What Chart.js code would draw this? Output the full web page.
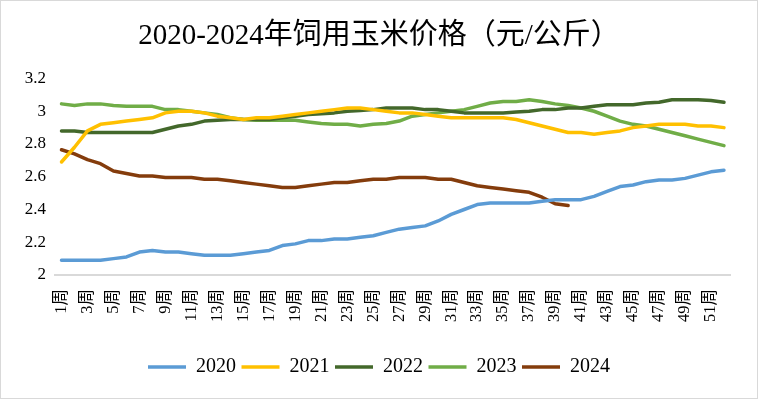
<!DOCTYPE html>
<html>
<head>
<meta charset="utf-8">
<script src="https://cdn.jsdelivr.net/npm/chart.js@4/dist/chart.umd.min.js"></script>
<style>
	body { margin: 0; background: #fff; }
	#wrap { width: 758px; height: 399px; position: relative; }
</style>
</head>
<body>
<div id="wrap"><canvas id="myChart" width="758" height="399"></canvas></div>
<script>
const weeks = [
	'1周','2周','3周','4周','5周','6周','7周','8周','9周','10周',
	'11周','12周','13周','14周','15周','16周','17周','18周','19周','20周',
	'21周','22周','23周','24周','25周','26周','27周','28周','29周','30周',
	'31周','32周','33周','34周','35周','36周','37周','38周','39周','40周',
	'41周','42周','43周','44周','45周','46周','47周','48周','49周','50周',
	'51周','52周'
];

const price2020 = [
	2.09, 2.09, 2.09, 2.09, 2.10, 2.11, 2.14, 2.15, 2.14, 2.14,
	2.13, 2.12, 2.12, 2.12, 2.13, 2.14, 2.15, 2.18, 2.19, 2.21,
	2.21, 2.22, 2.22, 2.23, 2.24, 2.26, 2.28, 2.29, 2.30, 2.33,
	2.37, 2.40, 2.43, 2.44, 2.44, 2.44, 2.44, 2.45, 2.46, 2.46,
	2.46, 2.48, 2.51, 2.54, 2.55, 2.57, 2.58, 2.58, 2.59, 2.61,
	2.63, 2.64
];
const price2021 = [
	2.69, 2.78, 2.88, 2.92, 2.93, 2.94, 2.95, 2.96, 2.99, 3.00,
	3.00, 2.99, 2.97, 2.96, 2.95, 2.96, 2.96, 2.97, 2.98, 2.99,
	3.00, 3.01, 3.02, 3.02, 3.01, 3.00, 2.99, 2.99, 2.98, 2.97,
	2.96, 2.96, 2.96, 2.96, 2.96, 2.95, 2.93, 2.91, 2.89, 2.87,
	2.87, 2.86, 2.87, 2.88, 2.90, 2.91, 2.92, 2.92, 2.92, 2.91,
	2.91, 2.90
];
const price2022 = [
	2.88, 2.88, 2.87, 2.87, 2.87, 2.87, 2.87, 2.87, 2.89, 2.91,
	2.92, 2.94, 2.945, 2.95, 2.95, 2.95, 2.95, 2.96, 2.97, 2.98,
	2.985, 2.99, 3.00, 3.005, 3.01, 3.02, 3.02, 3.02, 3.01, 3.01,
	3.00, 2.99, 2.99, 2.99, 2.99, 2.995, 3.00, 3.01, 3.01, 3.02,
	3.02, 3.03, 3.04, 3.04, 3.04, 3.05, 3.055, 3.07, 3.07, 3.07,
	3.065, 3.055
];
const price2023 = [
	3.045, 3.035, 3.045, 3.045, 3.035, 3.03, 3.03, 3.03, 3.01, 3.01,
	3.00, 2.99, 2.98, 2.96, 2.95, 2.945, 2.945, 2.945, 2.945, 2.935,
	2.925, 2.92, 2.92, 2.91, 2.92, 2.925, 2.94, 2.97, 2.98, 2.99,
	3.00, 3.01, 3.03, 3.05, 3.06, 3.06, 3.07, 3.06, 3.045, 3.035,
	3.02, 3.00, 2.97, 2.94, 2.92, 2.91, 2.89, 2.87, 2.85, 2.83,
	2.81, 2.79
];
const price2024 = [
	2.765, 2.74, 2.705, 2.68, 2.635, 2.62, 2.605, 2.605, 2.595, 2.595,
	2.595, 2.585, 2.585, 2.575, 2.565, 2.555, 2.545, 2.535, 2.535, 2.545,
	2.555, 2.565, 2.565, 2.575, 2.585, 2.585, 2.595, 2.595, 2.595, 2.585,
	2.585, 2.565, 2.545, 2.535, 2.525, 2.515, 2.505, 2.475, 2.435, 2.425
];

const seriesNames = ['2020', '2021', '2022', '2023', '2024'];
const seriesColors = ['#5B9BD5', '#FFC000', '#43682B', '#70AD47', '#843C0C'];

var myChart;
const serif = "'Liberation Serif', 'Noto Sans CJK SC', serif";

window.addEventListener('load', function(){
	drawChart();
});

function drawChart(){
	let allData = [price2020, price2021, price2022, price2023, price2024];
	let datasets = [];
	for(var i = 0; i < allData.length; i++){
		datasets.push({
			label: seriesNames[i],
			data: allData[i],
			borderColor: seriesColors[i],
			backgroundColor: seriesColors[i],
			borderWidth: 3.5,
			borderCapStyle: 'round',
			borderJoinStyle: 'round',
			pointRadius: 0,
			pointHoverRadius: 0,
			pointStyle: 'line',
			tension: 0,
			fill: false
		});
	}

	// light frame around the whole chart
	const frame = {
		id: 'frame',
		beforeDraw: function(chart){
			let ctx = chart.ctx;
			ctx.save();
			ctx.fillStyle = '#fff';
			ctx.fillRect(0, 0, chart.width, chart.height);
			ctx.strokeStyle = '#d9d9d9';
			ctx.lineWidth = 1;
			ctx.strokeRect(0.5, 0.5, chart.width - 1, chart.height - 1);
			ctx.restore();
		}
	};

	const config = {
		type: 'line',
		data: { labels: weeks, datasets: datasets },
		options: {
			responsive: false,
			animation: false,
			layout: { padding: { left: 0, right: 0, top: 0, bottom: 12 } },
			plugins: {
				title: {
					display: true,
					text: '2020-2024年饲用玉米价格（元/公斤）',
					color: '#000',
					font: { family: serif, size: 29, weight: 'normal', lineHeight: 1.2 },
					padding: { top: 18.6, bottom: 25.1 }
				},
				legend: {
					position: 'bottom',
					labels: {
						usePointStyle: true,
						pointStyleWidth: 38,
						color: '#000',
						padding: 5.5,
						font: { family: serif, size: 20 }
					}
				},
				tooltip: { enabled: false }
			},
			scales: {
				x: {
					offset: true,
					grid: { display: false, drawTicks: false },
					border: { display: true, color: '#d9d9d9', width: 2 },
					afterFit: function(scale){ scale.height = 76.5; },
					ticks: {
						autoSkip: false,
						minRotation: 90,
						maxRotation: 90,
						padding: 14,
						color: '#000',
						font: { family: serif, size: 16.5 },
						callback: function(value, index){
							return index % 2 == 0 ? weeks[index] : '';
						}
					}
				},
				y: {
					min: 2,
					max: 3.2,
					grid: { display: false, drawTicks: false },
					border: { display: false },
					afterFit: function(scale){ scale.width = 55; },
					ticks: {
						stepSize: 0.2,
						padding: 9,
						color: '#000',
						font: { family: serif, size: 17 },
						callback: function(value){
							return String(parseFloat(value.toFixed(1)));
						}
					}
				},
				// empty right-hand strip so the plot ends where the reference does
				yRight: {
					position: 'right',
					grid: { display: false, drawTicks: false },
					border: { display: false },
					ticks: { display: false },
					afterFit: function(scale){ scale.width = 23; }
				}
			}
		},
		plugins: [frame]
	};

	if(myChart != null){
		myChart.destroy();
	}
	myChart = new Chart(document.getElementById('myChart'), config);
}
</script>
</body>
</html>
